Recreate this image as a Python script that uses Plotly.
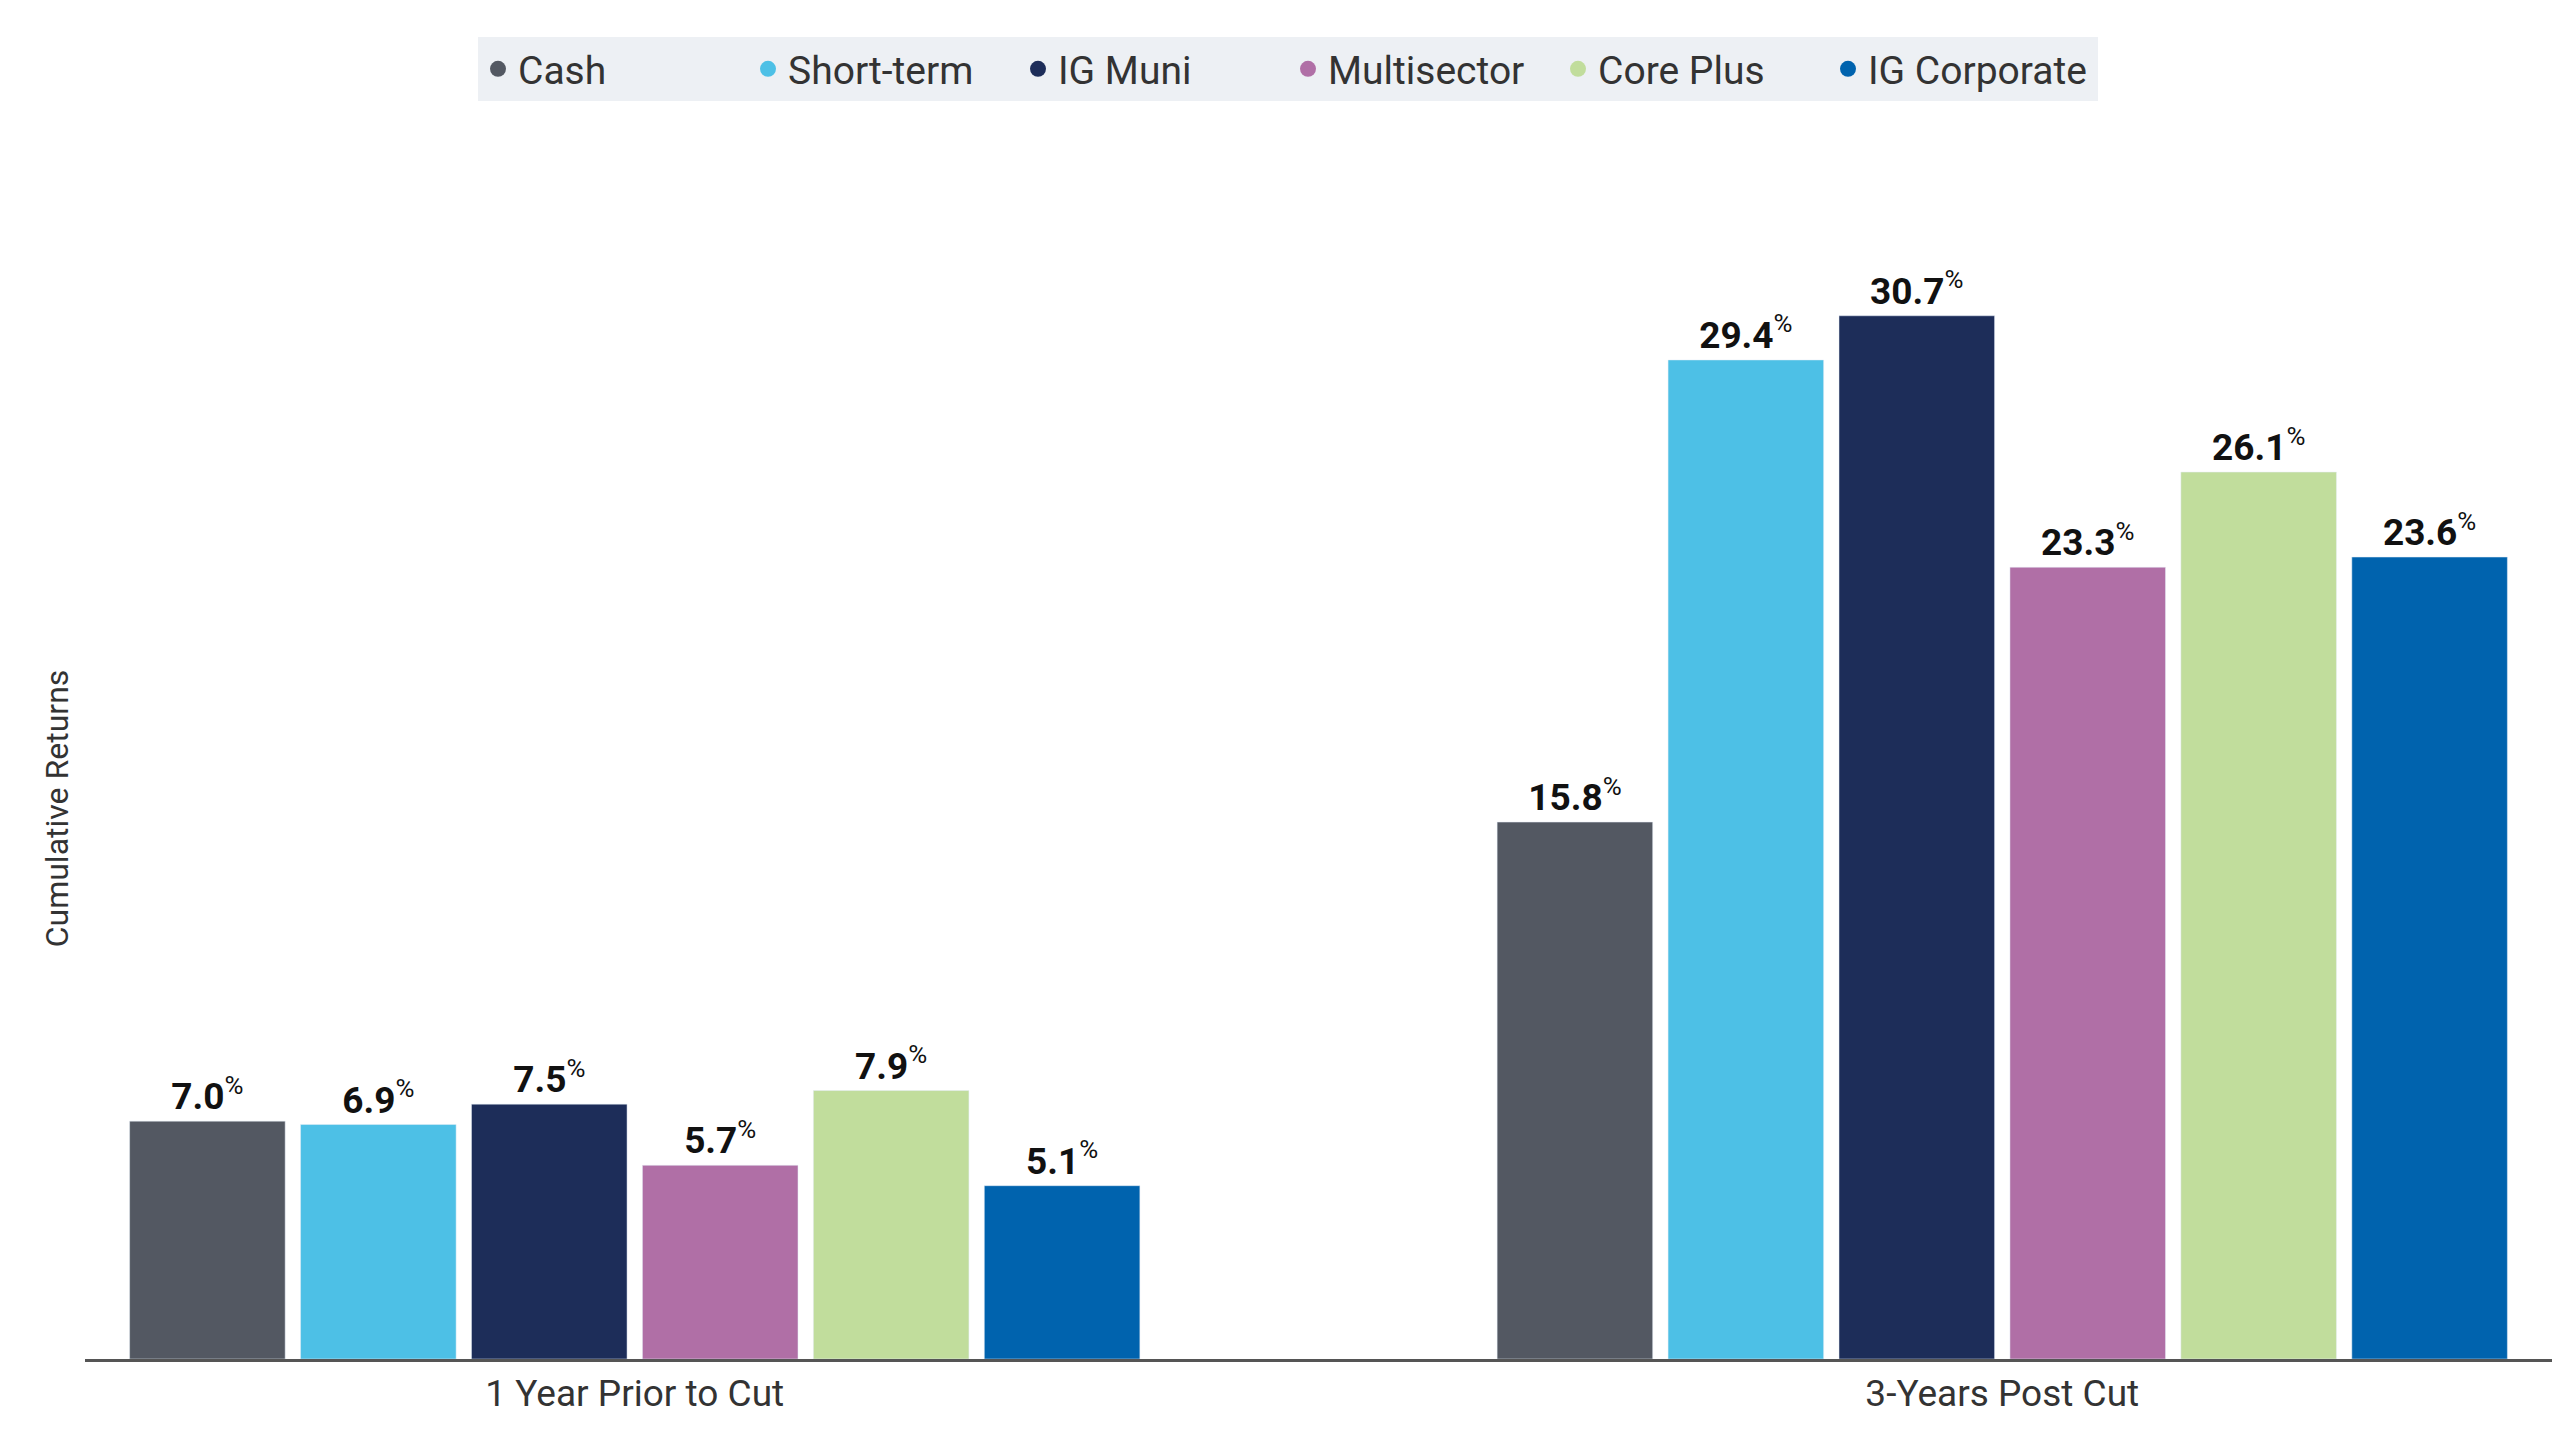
import plotly.graph_objects as go

categories = ["1 Year Prior to Cut", "3-Years Post Cut"]
series = ["Cash", "Short-term", "IG Muni", "Multisector", "Core Plus", "IG Corporate"]
values = {
    "Cash": [7.0, 15.8],
    "Short-term": [6.9, 29.4],
    "IG Muni": [7.5, 30.7],
    "Multisector": [5.7, 23.3],
    "Core Plus": [7.9, 26.1],
    "IG Corporate": [5.1, 23.6],
}
colors = ["#535862", "#4dc0e6", "#1d2d59", "#b06fa6", "#c1dd9c", "#0063ae"]

FONT = "Liberation Sans Narrow, Roboto, sans-serif"
pos = list(range(len(categories)))
fig = go.Figure()
for s, c in zip(series, colors):
    v = values[s]
    fig.add_trace(go.Bar(
        x=pos, y=v, name=s, marker_color=c, showlegend=False,
        text=[f"<b>{x:.1f}</b><sup>%</sup>" for x in v],
        textposition="outside", cliponaxis=False,
        textfont=dict(family=FONT, size=37, color="#111111"),
    ))
for s, c in zip(series, colors):
    fig.add_trace(go.Scatter(x=[None], y=[None], mode="markers", name=s,
                             marker=dict(color=c, size=20, symbol="circle")))

fig.update_layout(
    width=2560, height=1440, plot_bgcolor="white", paper_bgcolor="white",
    barmode="group", bargap=0.25, bargroupgap=0.09,
    margin=dict(l=77, r=16, t=250, b=89),
    font=dict(family=FONT, color="#222222"),
    legend=dict(orientation="h", xref="container", yref="container",
                x=0.5, xanchor="center", y=1 - 29/1440, yanchor="top",
                bgcolor="#edf0f4", font=dict(size=39, family=FONT, color="#333333"),
                itemwidth=30, entrywidth=225, tracegroupgap=0,
                borderwidth=0),
    xaxis=dict(showline=True, linecolor="#555555", linewidth=3, ticks="",
               range=[-0.402, 1.402], tickvals=pos, ticktext=categories,
               tickfont=dict(size=37, family=FONT, color="#333333")),
    yaxis=dict(range=[0, 32.4], showgrid=False, showticklabels=False, zeroline=False,
               title=dict(text="Cumulative Returns", standoff=5,
                          font=dict(size=32, family=FONT, color="#333333"))),
)
fig.write_html("out.html")
